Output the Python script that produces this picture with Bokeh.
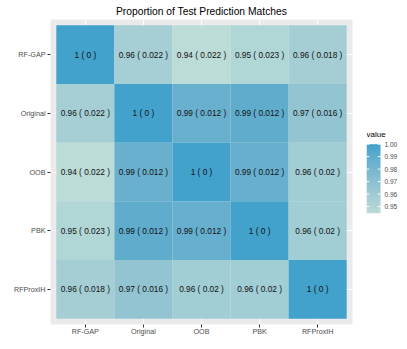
import numpy as np
from bokeh.plotting import figure
from bokeh.layouts import row
from bokeh.models import ColumnDataSource, FactorRange, LinearColorMapper, Range1d
from bokeh.core.properties import value
from bokeh.embed import file_html
from bokeh.resources import INLINE

# ---------------- data ----------------
methods = ["RF-GAP", "Original", "OOB", "PBK", "RFProxIH"]

# mean proportion of matching test predictions (row method vs column method)
mean_rf_gap   = [1.000, 0.957, 0.9446, 0.9505, 0.958]
mean_original = [0.957, 1.000, 0.986, 0.990, 0.967]
mean_oob      = [0.9446, 0.986, 1.000, 0.987, 0.959]
mean_pbk      = [0.9505, 0.990, 0.987, 1.000, 0.959]
mean_rfproxih = [0.958, 0.967, 0.959, 0.959, 1.000]

# standard deviations
sd_rf_gap   = [0, 0.022, 0.022, 0.023, 0.018]
sd_original = [0.022, 0, 0.012, 0.012, 0.016]
sd_oob      = [0.022, 0.012, 0, 0.012, 0.02]
sd_pbk      = [0.023, 0.012, 0.012, 0, 0.02]
sd_rfproxih = [0.018, 0.016, 0.02, 0.02, 0]

legend_ticks = [0.95, 0.96, 0.97, 0.98, 0.99, 1.00]

mean_rows = [mean_rf_gap, mean_original, mean_oob, mean_pbk, mean_rfproxih]
sd_rows = [sd_rf_gap, sd_original, sd_oob, sd_pbk, sd_rfproxih]

# ---------------- colour gradient (Lab interpolation like ggplot) ----------------
def _hex_to_rgb(h):
    h = h.lstrip("#")
    return np.array([int(h[i:i + 2], 16) for i in (0, 2, 4)], dtype=float) / 255.0

def _to_lab(rgb):
    c = np.where(rgb <= 0.04045, rgb / 12.92, ((rgb + 0.055) / 1.055) ** 2.4)
    M = np.array([[0.4124, 0.3576, 0.1805], [0.2126, 0.7152, 0.0722], [0.0193, 0.1192, 0.9505]])
    xyz = M @ c / np.array([0.95047, 1.0, 1.08883])
    f = np.where(xyz > 0.008856, np.cbrt(xyz), 7.787 * xyz + 16 / 116)
    return np.array([116 * f[1] - 16, 500 * (f[0] - f[1]), 200 * (f[1] - f[2])])

def _from_lab(lab):
    fy = (lab[0] + 16) / 116
    fx = fy + lab[1] / 500
    fz = fy - lab[2] / 200
    f = np.array([fx, fy, fz])
    xyz = np.where(f ** 3 > 0.008856, f ** 3, (f - 16 / 116) / 7.787) * np.array([0.95047, 1.0, 1.08883])
    Mi = np.array([[3.2406, -1.5372, -0.4986], [-0.9689, 1.8758, 0.0415], [0.0557, -0.2040, 1.0570]])
    c = Mi @ xyz
    c = np.where(c <= 0.0031308, 12.92 * c, 1.055 * np.clip(c, 0, None) ** (1 / 2.4) - 0.055)
    c = np.clip(c, 0, 1)
    return "#%02x%02x%02x" % tuple(int(round(v * 255)) for v in c)

low_lab = _to_lab(_hex_to_rgb("#bcdcd7"))
high_lab = _to_lab(_hex_to_rgb("#42a2cb"))
palette = [_from_lab(low_lab + (high_lab - low_lab) * t) for t in np.linspace(0, 1, 256)]

all_means = [m for r in mean_rows for m in r]
vmin, vmax = min(all_means), max(all_means)
mapper = LinearColorMapper(palette=palette, low=vmin, high=vmax)

# ---------------- table ----------------
xs, ys, vals, labels = [], [], [], []
for i, row_name in enumerate(methods):
    for j, col_name in enumerate(methods):
        m = mean_rows[i][j]
        s = sd_rows[i][j]
        xs.append(col_name)
        ys.append(row_name)
        vals.append(m)
        labels.append("%g ( %g )" % (round(m, 2), s))

src = ColumnDataSource(dict(x=xs, y=ys, value=vals, label=labels))

FONT = "Liberation Sans"
FRAME_H = 305

p = figure(
    x_range=FactorRange(factors=methods, range_padding=0.04),
    y_range=FactorRange(factors=list(reversed(methods)), range_padding=0.04),
    frame_width=302, frame_height=FRAME_H,
    min_border_left=50, min_border_right=8, min_border_top=18, min_border_bottom=20,
    output_backend="svg", toolbar_location=None,
    title="Proportion of Test Prediction Matches",
)
p.title.align = "center"
p.title.text_font = FONT
p.title.text_font_size = "10.3px"
p.title.text_font_style = "normal"
p.title.text_color = "black"
p.title.standoff = 6
p.title.offset = 0

p.background_fill_color = "#ebebeb"
p.border_fill_color = "white"
p.outline_line_color = None

for g in (p.xgrid, p.ygrid):
    g.grid_line_color = "white"
    g.grid_line_width = 1.1

for ax in (p.xaxis, p.yaxis):
    ax.axis_line_color = None
    ax.major_tick_line_color = "#333333"
    ax.major_tick_out = 3
    ax.major_tick_in = 0
    ax.minor_tick_line_color = None
    ax.major_label_text_font = FONT
    ax.major_label_text_font_size = "7.2px"
    ax.major_label_text_color = "#4d4d4d"
p.xaxis.major_label_standoff = -1
p.yaxis.major_label_standoff = 2

p.rect(x="x", y="y", width=1, height=1, source=src,
       fill_color={"field": "value", "transform": mapper}, line_color=None)

p.text(x="x", y="y", text="label", source=src, text_align="center",
       text_baseline="middle", text_font=value(FONT), text_font_size="8.3px",
       text_color="#111111")

# ---------------- legend (colour bar) ----------------
# the legend frame is aligned with the main frame; bar placed inside it
BAR_TOP_PX, BAR_H_PX, BAR_W_PX, LEG_W_PX = 124.7, 69.0, 14.0, 34.0
per_px = (vmax - vmin) / BAR_H_PX
leg_y0 = vmin - (FRAME_H - BAR_TOP_PX - BAR_H_PX) * per_px
leg_y1 = vmax + BAR_TOP_PX * per_px

leg = figure(
    x_range=Range1d(0, LEG_W_PX / BAR_W_PX), y_range=Range1d(leg_y0, leg_y1),
    frame_width=int(LEG_W_PX), frame_height=FRAME_H,
    min_border_left=6, min_border_right=0, min_border_top=0, min_border_bottom=0,
    x_axis_location=None, y_axis_location=None,
    output_backend="svg", toolbar_location=None,
)
leg.outline_line_color = None
leg.grid.visible = False
leg.background_fill_color = "white"
leg.border_fill_color = "white"

ramp = np.linspace(vmin, vmax, 256).reshape(-1, 1)
leg.image(image=[ramp], x=0, y=vmin, dw=1, dh=vmax - vmin, color_mapper=mapper)

# white tick marks on both edges of the bar
n = len(legend_ticks)
leg.segment(x0=[0.0] * n, x1=[0.2] * n, y0=legend_ticks, y1=legend_ticks,
            line_color="white", line_width=1)
leg.segment(x0=[0.8] * n, x1=[1.0] * n, y0=legend_ticks, y1=legend_ticks,
            line_color="white", line_width=1)

# tick labels
leg.text(x=[1 + 4 / BAR_W_PX] * n, y=legend_ticks, text=["%.2f" % t for t in legend_ticks],
         text_align="left", text_baseline="middle", text_font=value(FONT),
         text_font_size="6.5px", text_color="#4d4d4d")

# legend title
leg.text(x=[0.0], y=[vmax + 5 * per_px], text=["value"], text_align="left",
         text_baseline="bottom", text_font=value(FONT), text_font_size="8px",
         text_color="black")

layout = row(p, leg, spacing=0)
open("out.html", "w").write(file_html(layout, INLINE))
